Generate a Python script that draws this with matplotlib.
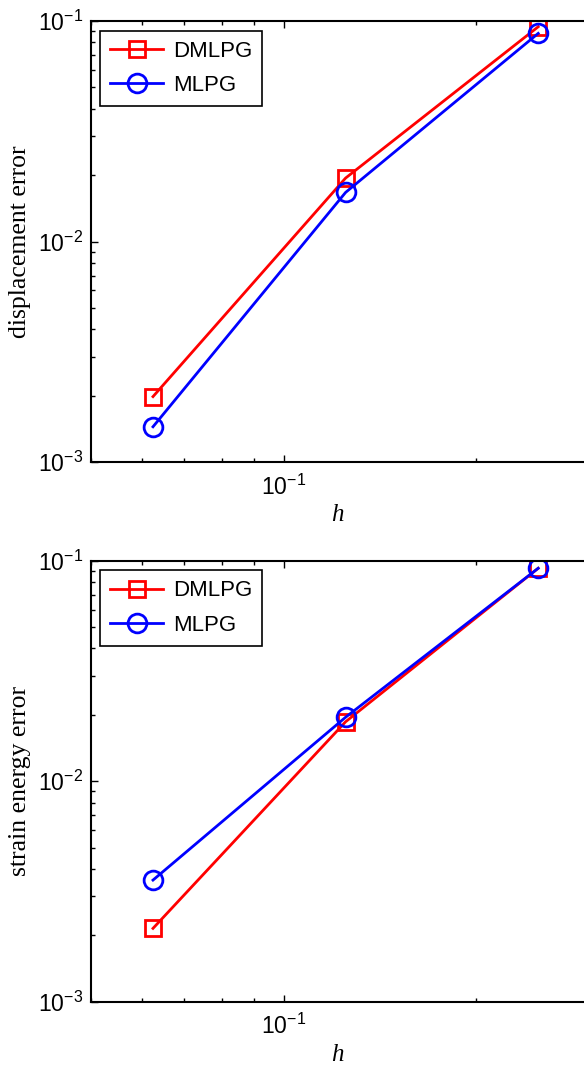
import matplotlib
matplotlib.use("Agg")
from matplotlib import pyplot as plt
from matplotlib.ticker import LogLocator, NullFormatter

# mesh sizes
h = [1 / 16, 1 / 8, 1 / 4]

# displacement error
disp_dmlpg = [1.98e-3, 1.94e-2, 9.42e-2]
disp_mlpg = [1.445e-3, 1.67e-2, 8.79e-2]

# strain energy error
energy_dmlpg = [2.15e-3, 1.86e-2, 9.24e-2]
energy_mlpg = [3.56e-3, 1.95e-2, 9.24e-2]

SERIF = "Liberation Serif"
SANS = "Liberation Sans"

plt.rcParams["mathtext.fontset"] = "custom"
plt.rcParams["mathtext.rm"] = SANS
plt.rcParams["mathtext.it"] = SANS + ":italic"
plt.rcParams["font.family"] = SANS


def draw_panel(ax, dmlpg, mlpg, ylabel):
    """One log-log convergence panel in the MATLAB look."""
    ax.loglog(h, dmlpg, color="red", marker="s", ms=11, mfc="none",
              mew=2, lw=2, label="DMLPG")
    ax.loglog(h, mlpg, color="blue", marker="o", ms=13.5, mfc="none",
              mew=2, lw=2, label="MLPG")

    ax.set_xlim(0.05, 0.2948)
    ax.set_ylim(1e-3, 1e-1)

    ax.yaxis.set_major_locator(LogLocator(base=10, numticks=10))
    ax.yaxis.set_minor_locator(LogLocator(base=10, subs=range(2, 10), numticks=10))
    ax.yaxis.set_minor_formatter(NullFormatter())
    ax.xaxis.set_minor_locator(LogLocator(base=10, subs=range(2, 10), numticks=10))
    ax.xaxis.set_minor_formatter(NullFormatter())

    ax.tick_params(which="both", direction="in", top=True, right=False,
                   labelsize=16.5, width=1.0)
    ax.tick_params(which="major", length=5)
    ax.tick_params(axis="x", which="major", pad=9)
    ax.tick_params(axis="y", which="major", pad=6)
    ax.tick_params(which="minor", length=3)

    ax.spines["right"].set_visible(False)
    for s in ("left", "bottom", "top"):
        ax.spines[s].set_linewidth(1.5)

    ax.set_ylabel(ylabel, fontfamily=SERIF, fontsize=18.5)
    ax.yaxis.set_label_coords(-0.122, 0.5)
    ax.set_xlabel("h", fontfamily=SERIF, fontstyle="italic", fontsize=18,
                  labelpad=3)

    leg = ax.legend(loc="upper left", fancybox=False, framealpha=1,
                    edgecolor="black", prop={"family": SANS, "size": 16},
                    handlelength=2.4, handletextpad=0.45, borderpad=0.45,
                    labelspacing=0.6, borderaxespad=0,
                    bbox_to_anchor=(0.018, 0.978))
    leg.get_frame().set_linewidth(1.2)


fig = plt.figure(figsize=(5.84, 10.68), dpi=100)
ax1 = fig.add_axes([0.1558, 0.5674, 0.8442, 0.4129])
ax2 = fig.add_axes([0.1558, 0.0621, 0.8442, 0.4129])

draw_panel(ax1, disp_dmlpg, disp_mlpg, "displacement error")
draw_panel(ax2, energy_dmlpg, energy_mlpg, "strain energy error")

fig.savefig("out.png", dpi=100)
